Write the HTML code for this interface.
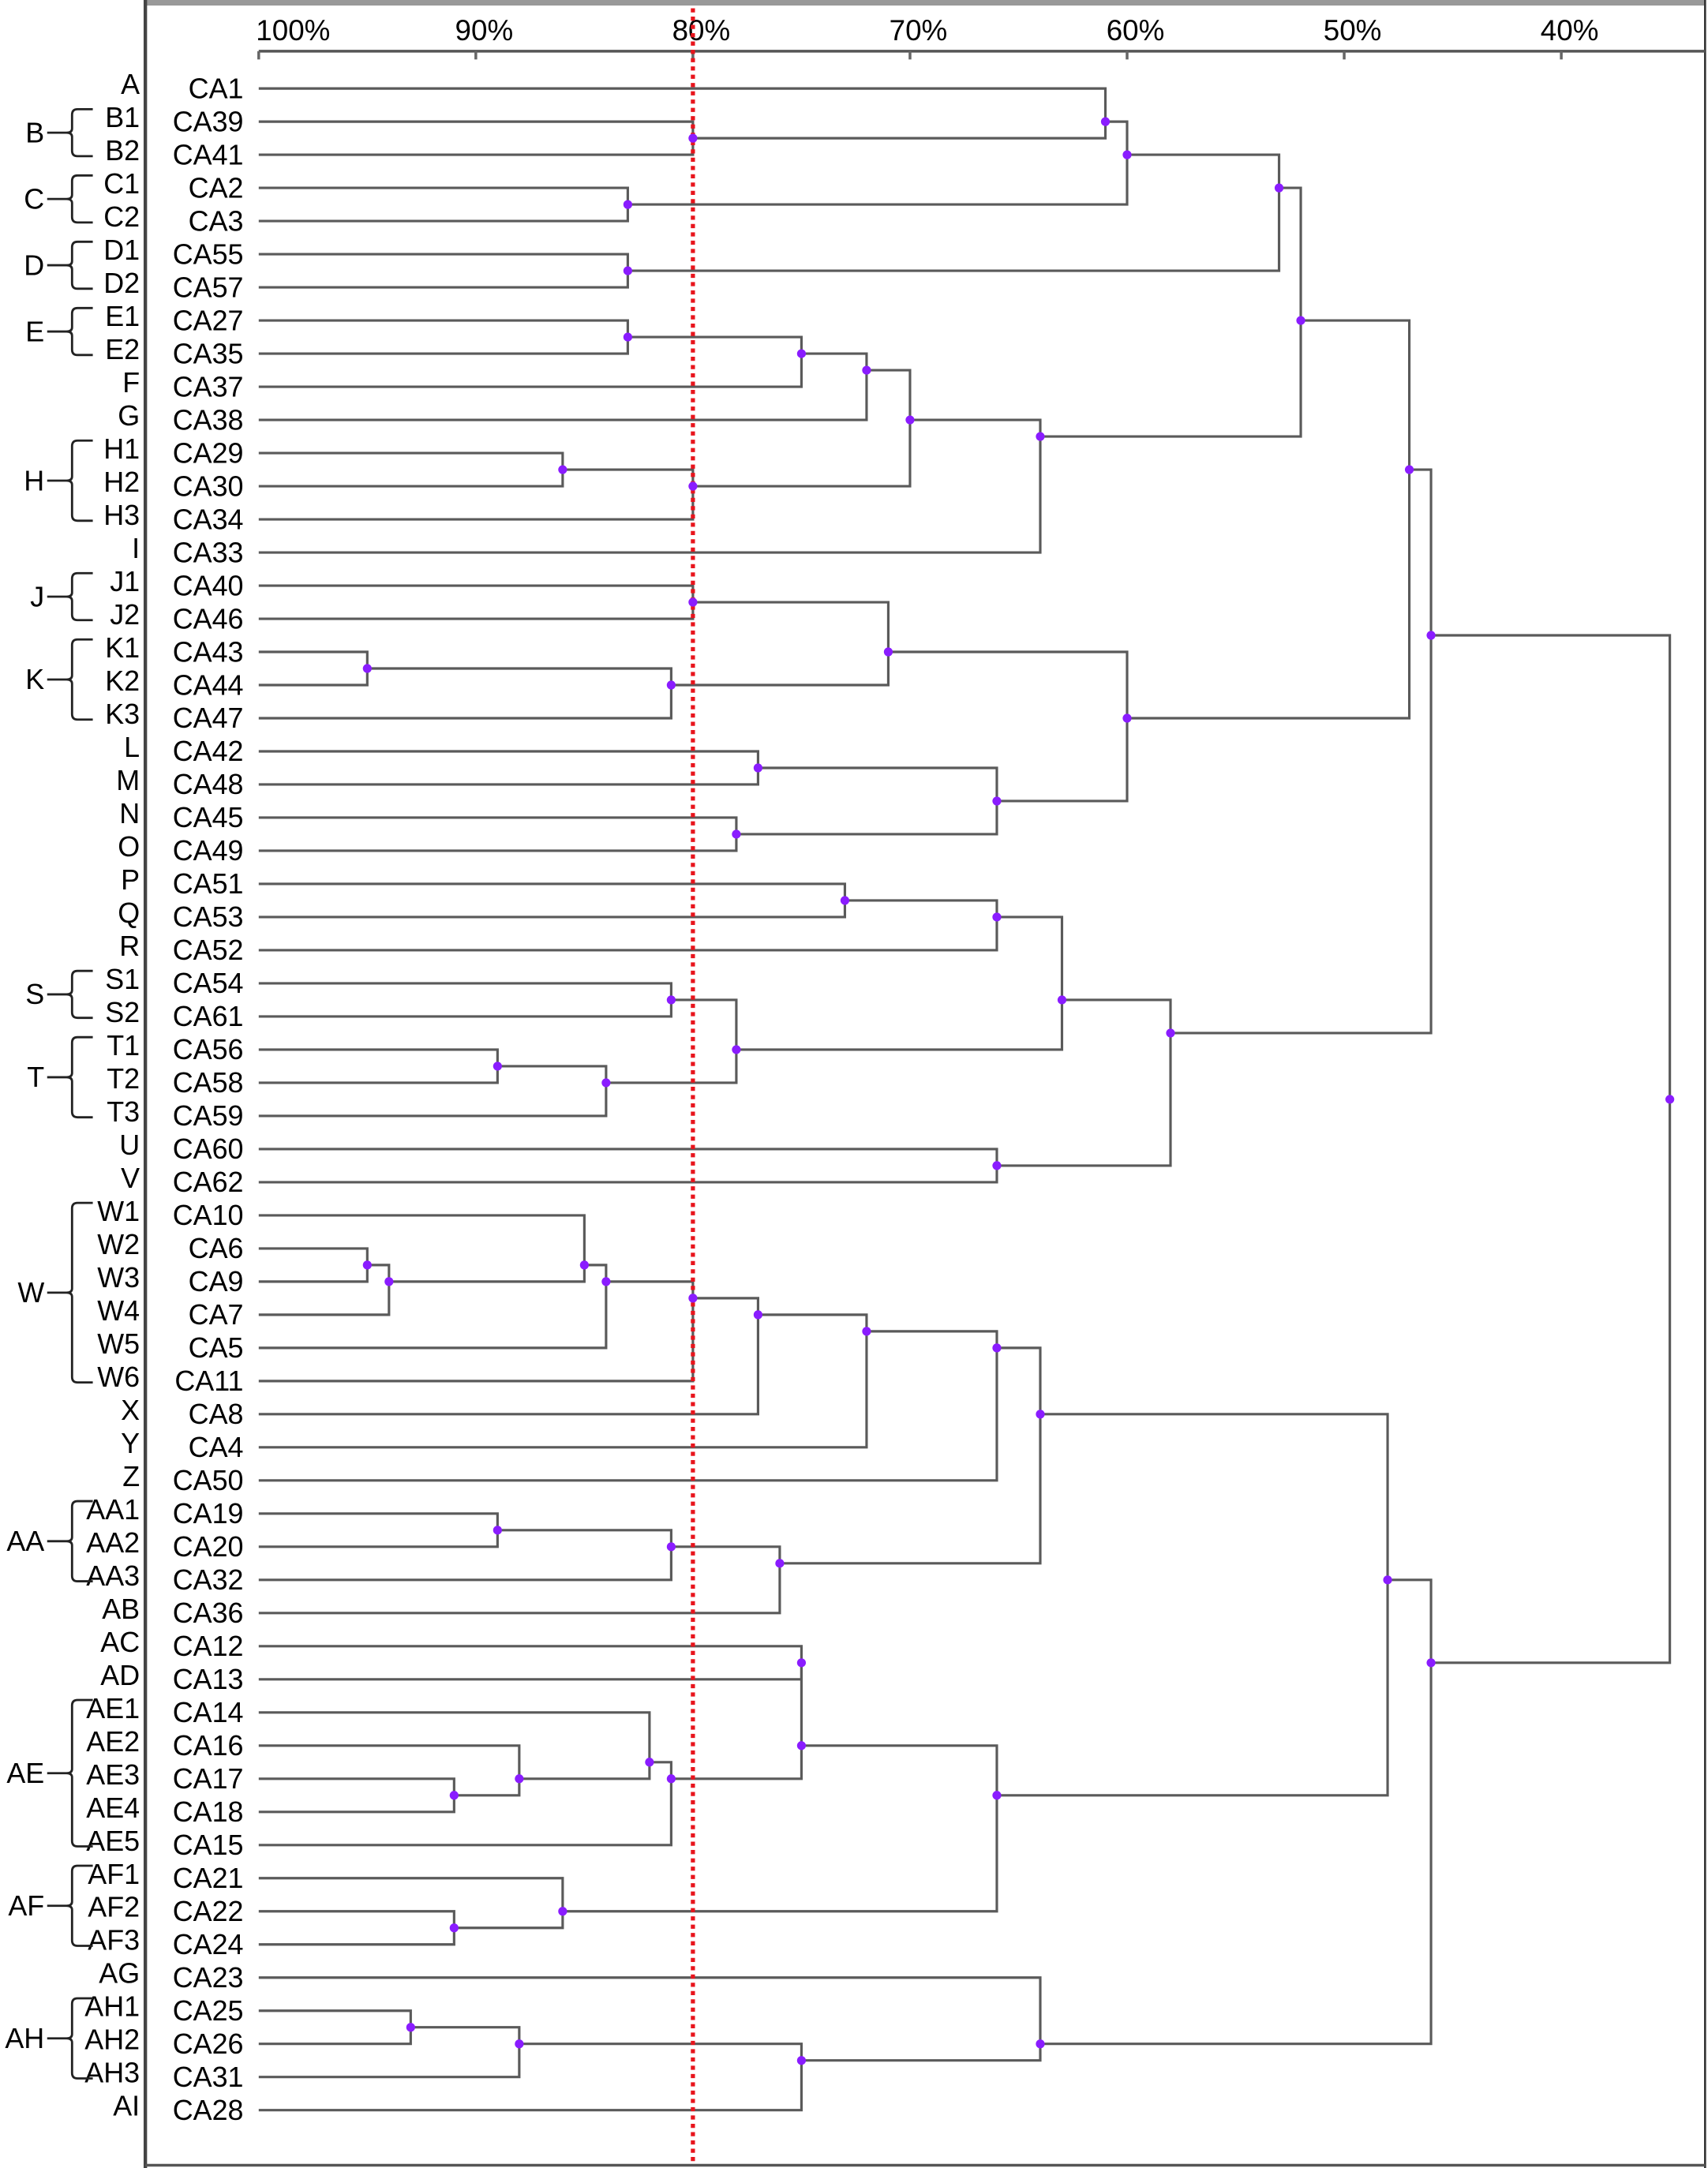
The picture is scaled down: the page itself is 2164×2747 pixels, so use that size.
<!DOCTYPE html>
<html><head><meta charset="utf-8"><style>
html,body{margin:0;padding:0;background:#fff;}
svg{display:block;}
text{font-family:"Liberation Sans",sans-serif;fill:#000;}
</style></head><body>
<svg id="chart" width="2164" height="2747" viewBox="0 0 1235 1568" xmlns="http://www.w3.org/2000/svg">
<rect x="0" y="0" width="1235" height="1568" fill="#fff"/>
<g id="frame">
<line x1="105" y1="2" x2="1233" y2="2" stroke="#999" stroke-width="4"/>
<line x1="105" y1="0" x2="105" y2="1568" stroke="#444" stroke-width="2.5"/>
<line x1="1233" y1="0" x2="1233" y2="1568" stroke="#333" stroke-width="1.5"/>
<line x1="105" y1="1566" x2="1233" y2="1566" stroke="#555" stroke-width="2"/>
</g>
<g id="axis"></g>
<g id="tree"></g>
<g id="labels"></g>
<g id="groups"></g>
</svg>
<script>
const tickValues = [100, 90, 80, 70, 60, 50, 40];
const tickLabels = ["100%", "90%", "80%", "70%", "60%", "50%", "40%"];
const leafNames = ["CA1","CA39","CA41","CA2","CA3","CA55","CA57","CA27","CA35","CA37","CA38","CA29","CA30","CA34","CA33","CA40","CA46","CA43","CA44","CA47","CA42","CA48","CA45","CA49","CA51","CA53","CA52","CA54","CA61","CA56","CA58","CA59","CA60","CA62","CA10","CA6","CA9","CA7","CA5","CA11","CA8","CA4","CA50","CA19","CA20","CA32","CA36","CA12","CA13","CA14","CA16","CA17","CA18","CA15","CA21","CA22","CA24","CA23","CA25","CA26","CA31","CA28"];
const leafCodes = ["A","B1","B2","C1","C2","D1","D2","E1","E2","F","G","H1","H2","H3","I","J1","J2","K1","K2","K3","L","M","N","O","P","Q","R","S1","S2","T1","T2","T3","U","V","W1","W2","W3","W4","W5","W6","X","Y","Z","AA1","AA2","AA3","AB","AC","AD","AE1","AE2","AE3","AE4","AE5","AF1","AF2","AF3","AG","AH1","AH2","AH3","AI"];
const groupNames = ["B","C","D","E","H","J","K","S","T","W","AA","AE","AF","AH"];
const groupFirst = [1,3,5,7,11,15,17,27,29,34,43,49,54,58];
const groupLast = [2,4,6,8,13,16,19,28,31,39,45,53,56,60];
// merges: indices >= 62 refer to merge (index-62)
const mergeLeft =  [1,0,3,63,5,65,7,68,69,11,71,70,73,67,15,17,77,76,20,22,80,79,75,24,85,27,29,88,87,86,32,91,84,35,95,34,97,98,99,100,101,43,103,104,102,47,51,50,49,110,107,55,54,112,106,58,117,118,57,116,94];
const mergeRight = [2,62,4,64,6,66,8,9,10,12,13,72,14,74,16,18,19,78,21,23,81,82,83,25,26,28,30,31,89,90,33,92,93,36,37,96,38,39,40,41,42,44,45,46,105,48,52,108,109,53,111,56,113,114,115,59,60,61,119,120,121];
const mergeHeight = [80,61,83,60,83,53,83,75,72,86,80,70,64,52,80,95,81,71,77,78,66,60,47,73,66,81,89,84,78,63,66,58,46,95,94,85,84,80,77,72,66,89,81,76,64,75,91,88,82,81,75,91,86,66,48,93,88,75,64,46,35];
const cutoff = 80;

const NS = "http://www.w3.org/2000/svg";
function X(p){ return 187 + (100 - p) * 15.7; }
function Y(i){ return 64 + i * 23.97; }
function mk(tag, attrs, parent){
  const el = document.createElementNS(NS, tag);
  for (const k in attrs) el.setAttribute(k, attrs[k]);
  parent.appendChild(el);
  return el;
}
const axis = document.getElementById('axis');
const tree = document.getElementById('tree');
const labels = document.getElementById('labels');
const groups = document.getElementById('groups');

const axl = mk('line', {x1: X(100), y1: 37, x2: 1233, y2: 37, stroke: '#555', 'stroke-width': 2}, axis);


tickValues.forEach((v, i) => {
  const t = mk('line', {x1: X(v), y1: 37, x2: X(v), y2: 43, stroke: '#666', 'stroke-width': 2}, axis);
  
  
  const isFirst = v === 100;
  const tx = mk('text', {x: isFirst ? X(v) - 2 : X(v) + 6, y: 29, 'font-size': 21, 'text-anchor': isFirst ? 'start' : 'middle'}, axis);
  tx.textContent = tickLabels[i];
  
  
});

const nodeX = [], nodeY = [], nodeSum = [], nodeCnt = [];
leafNames.forEach((n, i) => {
  nodeX[i] = X(100); nodeY[i] = Y(i); nodeSum[i] = i; nodeCnt[i] = 1;
  const t = mk('text', {x: 176, y: Y(i) + 7, 'font-size': 20.5, 'text-anchor': 'end'}, labels);
  t.textContent = n;
  
  
  const c = mk('text', {x: 101, y: Y(i) + 4, 'font-size': 20.5, 'text-anchor': 'end'}, labels);
  c.textContent = leafCodes[i];
  
  
});

const dots = [];
mergeHeight.forEach((h, k) => {
  const a = mergeLeft[k], b = mergeRight[k];
  const x = X(h);
  const ya = nodeY[a], yb = nodeY[b];
  const idx = 62 + k;
  nodeX[idx] = x;
  nodeSum[idx] = nodeSum[a] + nodeSum[b];
  nodeCnt[idx] = nodeCnt[a] + nodeCnt[b];
  nodeY[idx] = Y(nodeSum[idx] / nodeCnt[idx]);
  const p = mk('path', {d: `M${nodeX[a]},${ya}H${x}V${yb}H${nodeX[b]}`, fill: 'none', stroke: '#5a5a5a', 'stroke-width': 1.8}, tree);
  
  
  dots.push([x, nodeY[idx]]);
});
const cl = mk('line', {x1: X(cutoff), y1: 6, x2: X(cutoff), y2: 1566, stroke: '#e8141c', 'stroke-width': 3, 'stroke-dasharray': '3 3'}, tree);


dots.forEach(d => {
  const c = mk('circle', {cx: d[0], cy: d[1], r: 3.2, fill: '#8a1cff'}, tree);
  
  
});

groupNames.forEach((g, i) => {
  const y1 = Y(groupFirst[i]) - 9, y2 = Y(groupLast[i]) + 1;
  const ym = (y1 + y2) / 2;
  const p = mk('path', {d: `M67,${y1}H56Q52,${y1} 52,${y1+4}V${ym-3}Q52,${ym} 48,${ym}Q52,${ym} 52,${ym+3}V${y2-4}Q52,${y2} 56,${y2}H67M34,${ym}H48`, fill: 'none', stroke: '#222', 'stroke-width': 1.6}, groups);
  
  
  const t = mk('text', {x: 32, y: ym + 7, 'font-size': 20.5, 'text-anchor': 'end'}, groups);
  t.textContent = g;
  
  
});
</script>
</body></html>
